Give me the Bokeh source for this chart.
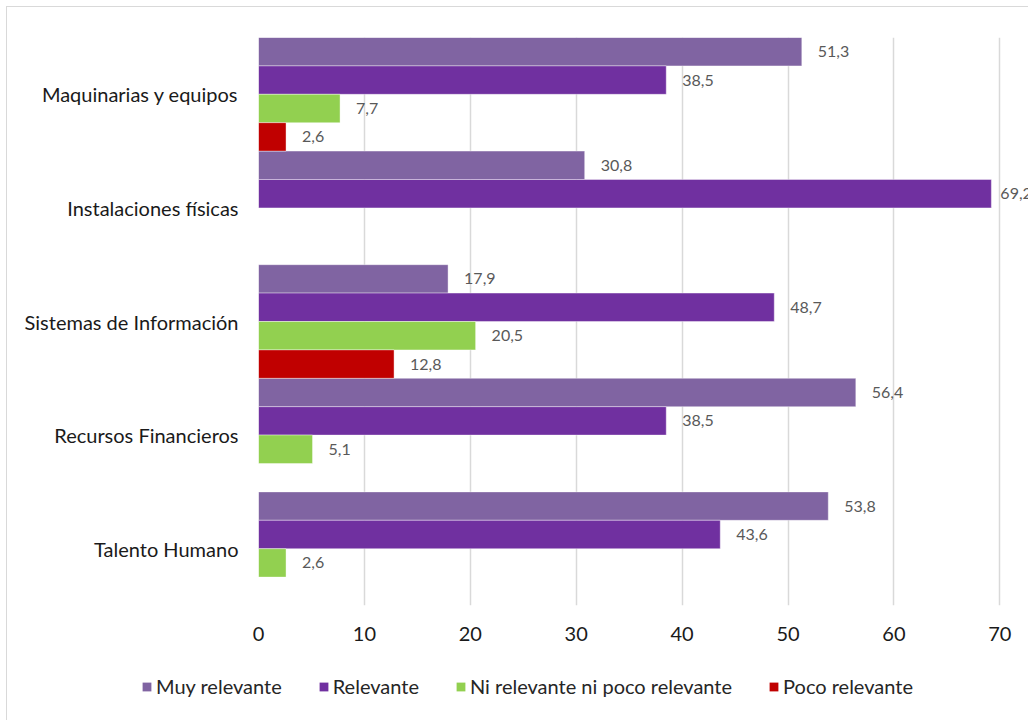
from bokeh.plotting import figure
from bokeh.models import (FactorRange, Range1d, Legend, LegendItem,
                          ColumnDataSource, FixedTicker)
from bokeh.transform import dodge
from bokeh.core.properties import value
from bokeh.embed import file_html
from bokeh.resources import INLINE

# Categories listed bottom to top
categories = ["Talento Humano", "Recursos Financieros", "Sistemas de Información",
              "Instalaciones físicas", "Maquinarias y equipos"]

muy_relevante = [53.8, 56.4, 17.9, 30.8, 51.3]
relevante = [43.6, 38.5, 48.7, 69.2, 38.5]
ni_relevante = [2.6, 5.1, 20.5, 0.0, 7.7]
poco_relevante = [0.0, 0.0, 12.8, 0.0, 2.6]

series_names = ["Muy relevante", "Relevante", "Ni relevante ni poco relevante", "Poco relevante"]
series_values = [muy_relevante, relevante, ni_relevante, poco_relevante]
series_colors = ["#8064A2", "#7030A0", "#92D050", "#C00000"]
offsets = [0.375, 0.125, -0.125, -0.375]

x_ticks = [0, 10, 20, 30, 40, 50, 60, 70]
x_max = 72.8

FONT = "Lato"

p = figure(width=1022, height=646, output_backend="svg", toolbar_location=None,
           y_range=FactorRange(*categories, range_padding=0),
           x_range=Range1d(0, x_max),
           min_border_left=251, min_border_right=0, min_border_top=30, min_border_bottom=48)
p.outline_line_color = None
p.background_fill_color = "white"
p.border_fill_color = "white"
p.styles = {"border-top": "1px solid #d9d9d9", "border-left": "1px solid #d9d9d9",
            "margin-left": "6px", "margin-top": "6px"}

for name, vals, color, off in zip(series_names, series_values, series_colors, offsets):
    cats = [c for c, v in zip(categories, vals) if v > 0]
    vs = [v for v in vals if v > 0]
    # labels near the right edge sit closer to their bar
    xoffs = [9 if v > 0.9 * x_max else 16 for v in vs]
    src = ColumnDataSource(dict(cat=cats, val=vs, xo=xoffs,
                                lbl=[f"{v:.1f}".replace(".", ",") for v in vs]))
    p.hbar(y=dodge("cat", off, range=p.y_range), right="val", left=0, height=0.25,
           source=src, fill_color=color, line_color="white", line_alpha=0.4, line_width=1)
    p.text(x="val", y=dodge("cat", off, range=p.y_range), text="lbl", source=src,
           x_offset="xo", text_baseline="middle", text_align="left",
           text_font=value(FONT), text_font_size="16px", text_color="#595959")

# Axes
p.xaxis.ticker = FixedTicker(ticks=x_ticks)
p.xaxis.axis_line_color = None
p.xaxis.major_tick_line_color = None
p.xaxis.minor_tick_line_color = None
p.xaxis.major_label_standoff = 15
p.xaxis.major_label_text_font = FONT
p.xaxis.major_label_text_font_size = "20px"
p.xaxis.major_label_text_color = "#1a1a1a"

p.yaxis.axis_line_color = None
p.yaxis.major_tick_line_color = None
p.yaxis.major_tick_out = 0
p.yaxis.major_label_standoff = 20
p.yaxis.major_label_text_font = FONT
p.yaxis.major_label_text_font_size = "20px"
p.yaxis.major_label_text_color = "#1a1a1a"

p.ygrid.grid_line_color = None
p.xgrid.ticker = FixedTicker(ticks=x_ticks)
p.xgrid.grid_line_color = "#d9d9d9"
p.xgrid.grid_line_width = 1.5

# Legend strip under the chart
lf = figure(width=1022, height=68, output_backend="svg", toolbar_location=None,
            x_range=Range1d(0, 1), y_range=Range1d(0, 1),
            x_axis_location=None, y_axis_location=None,
            min_border_left=0, min_border_right=0, min_border_top=0, min_border_bottom=0)
lf.outline_line_color = None
lf.grid.grid_line_color = None
lf.styles = {"border-left": "1px solid #d9d9d9", "margin-left": "6px"}
swatches = []
for name, color in zip(series_names, series_colors):
    # zero-length bar, only used for the legend swatch
    r = lf.hbar(y=[0.5], right=[0], left=0, height=0.25, fill_color=color, line_color=None)
    swatches.append(LegendItem(label=name, renderers=[r]))

legend = Legend(items=swatches, orientation="horizontal", location=(134, 22),
                glyph_width=11, glyph_height=11, label_standoff=4, spacing=36,
                padding=0, margin=0, background_fill_alpha=0, border_line_color=None,
                label_text_font=FONT, label_text_font_size="20px", label_text_color="#262626",
                label_height=11)
lf.add_layout(legend)

open("out.html", "w").write(file_html([p, lf], INLINE))
